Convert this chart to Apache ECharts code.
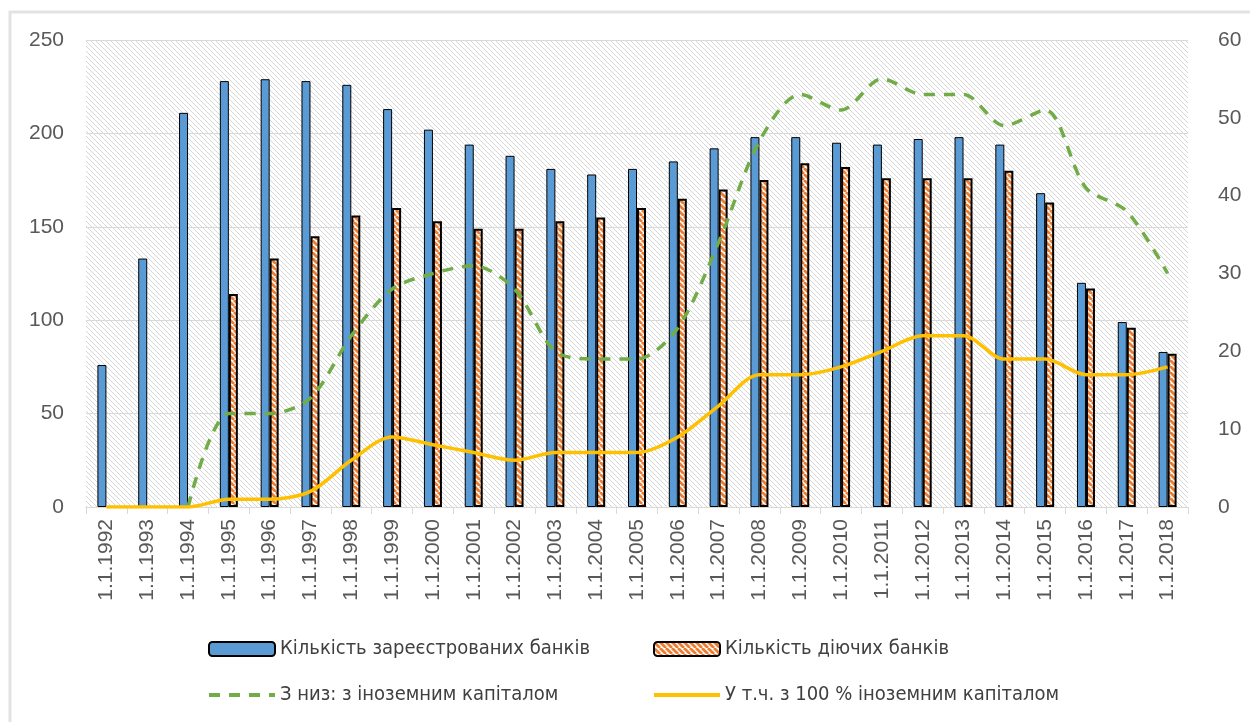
<!DOCTYPE html>
<html>
<head>
<meta charset="utf-8">
<script src="https://cdn.jsdelivr.net/npm/echarts@6/dist/echarts.min.js"></script>
<style>
  html, body { margin: 0; padding: 0; background: #fff; }
  #chart { width: 1250px; height: 722px; }
</style>
</head>
<body>
<div id="chart"></div>
<script>
// дані
const years = ['1.1.1992','1.1.1993','1.1.1994','1.1.1995','1.1.1996','1.1.1997','1.1.1998','1.1.1999','1.1.2000',
  '1.1.2001','1.1.2002','1.1.2003','1.1.2004','1.1.2005','1.1.2006','1.1.2007','1.1.2008','1.1.2009','1.1.2010',
  '1.1.2011','1.1.2012','1.1.2013','1.1.2014','1.1.2015','1.1.2016','1.1.2017','1.1.2018'];
const registered = [76, 133, 211, 228, 229, 228, 226, 213, 202, 194, 188, 181, 178, 181, 185, 192, 198, 198, 195,
  194, 197, 198, 194, 168, 120, 99, 83];
const active = [null, null, null, 114, 133, 145, 156, 160, 153, 149, 149, 153, 155, 160, 165, 170, 175, 184, 182,
  176, 176, 176, 180, 163, 117, 96, 82];
const foreign = [null, null, 0, 12, 12, 14, 22, 28, 30, 31, 28, 20, 19, 19, 23, 34, 47, 53, 51, 55, 53, 53, 49, 51, 41, 38, 30];
const foreign100 = [0, 0, 0, 1, 1, 2, 6, 9, 8, 7, 6, 7, 7, 7, 9, 13, 17, 17, 18, 20, 22, 22, 19, 19, 17, 17, 18];
const names = ['Кількість зареєстрованих банків', 'Кількість діючих банків',
  'З низ: з іноземним капіталом', 'У т.ч. з 100 % іноземним капіталом'];

// штрихування (канвас-патерн)
function hatch(size, bg, fg, lw) {
  const c = document.createElement('canvas');
  c.width = size; c.height = size;
  const ctx = c.getContext('2d');
  ctx.fillStyle = bg;
  ctx.fillRect(0, 0, size, size);
  ctx.strokeStyle = fg;
  ctx.lineWidth = lw;
  [-size, 0, size].forEach(k => {
    ctx.beginPath();
    ctx.moveTo(k, 0);
    ctx.lineTo(k + size, size);
    ctx.stroke();
  });
  return c;
}

const chart = echarts.init(document.getElementById('chart'));
const font = 'Liberation Sans';
const legendText = { fontSize: 20, color: '#404040', fontFamily: "'DejaVu Sans Condensed', 'Liberation Sans'", lineHeight: 24 };

chart.setOption({
  animation: false,
  backgroundColor: '#fff',
  graphic: [{
    type: 'rect',
    shape: { x: 10, y: 12, width: 1260, height: 740 },
    style: { fill: 'none', stroke: '#e3e3e3', lineWidth: 3 },
    silent: true
  }],
  grid: {
    left: 86, right: 62, top: 40, bottom: 215,
    show: true,
    borderWidth: 0,
    backgroundColor: { image: hatch(5, '#ffffff', '#d6d6d6', 1), repeat: 'repeat' }
  },
  legend: [{
    orient: 'vertical',
    left: 202, top: 632,
    itemWidth: 66, itemHeight: 14, itemGap: 22,
    textStyle: legendText,
    data: [names[0], { name: names[2], itemStyle: { opacity: 0 }, lineStyle: { width: 4 } }]
  }, {
    orient: 'vertical',
    left: 647, top: 632,
    itemWidth: 66, itemHeight: 14, itemGap: 22,
    textStyle: legendText,
    data: [names[1], { name: names[3], itemStyle: { opacity: 0 }, lineStyle: { width: 4 } }]
  }],
  xAxis: {
    type: 'category',
    data: years,
    axisLine: { lineStyle: { color: '#d9d9d9', width: 1 } },
    axisTick: { show: true, length: 7, lineStyle: { color: '#d9d9d9' } },
    axisLabel: { rotate: 90, fontSize: 21, color: '#595959', fontFamily: font, margin: 12 }
  },
  yAxis: [{
    type: 'value', min: 0, max: 250, interval: 50,
    axisLine: { show: false }, axisTick: { show: false },
    axisLabel: { fontSize: 21, color: '#595959', fontFamily: font, margin: 22 },
    splitLine: { lineStyle: { color: '#d9d9d9', width: 1 } }
  }, {
    type: 'value', min: 0, max: 60, interval: 10,
    axisLine: { show: false }, axisTick: { show: false },
    axisLabel: { fontSize: 21, color: '#595959', fontFamily: font, margin: 30 },
    splitLine: { show: false }
  }],
  series: [{
    name: names[0],
    type: 'bar',
    data: registered,
    barWidth: 9,
    barGap: '0%',
    itemStyle: { color: '#5B9BD5', borderColor: '#000', borderWidth: 1 }
  }, {
    name: names[1],
    type: 'bar',
    data: active,
    barWidth: 9,
    itemStyle: { color: { image: hatch(6, '#ffffff', '#ED7D31', 2.8), repeat: 'repeat' }, borderColor: '#000', borderWidth: 2 }
  }, {
    name: names[2],
    type: 'line',
    yAxisIndex: 1,
    data: foreign,
    smooth: 0.3,
    symbol: 'none',
    lineStyle: { color: '#70AD47', width: 3.5, type: [11, 9] },
    itemStyle: { color: '#70AD47' }
  }, {
    name: names[3],
    type: 'line',
    yAxisIndex: 1,
    data: foreign100,
    smooth: 0.3,
    symbol: 'none',
    lineStyle: { color: '#FFC000', width: 3.5 },
    itemStyle: { color: '#FFC000' }
  }]
});
</script>
</body>
</html>
